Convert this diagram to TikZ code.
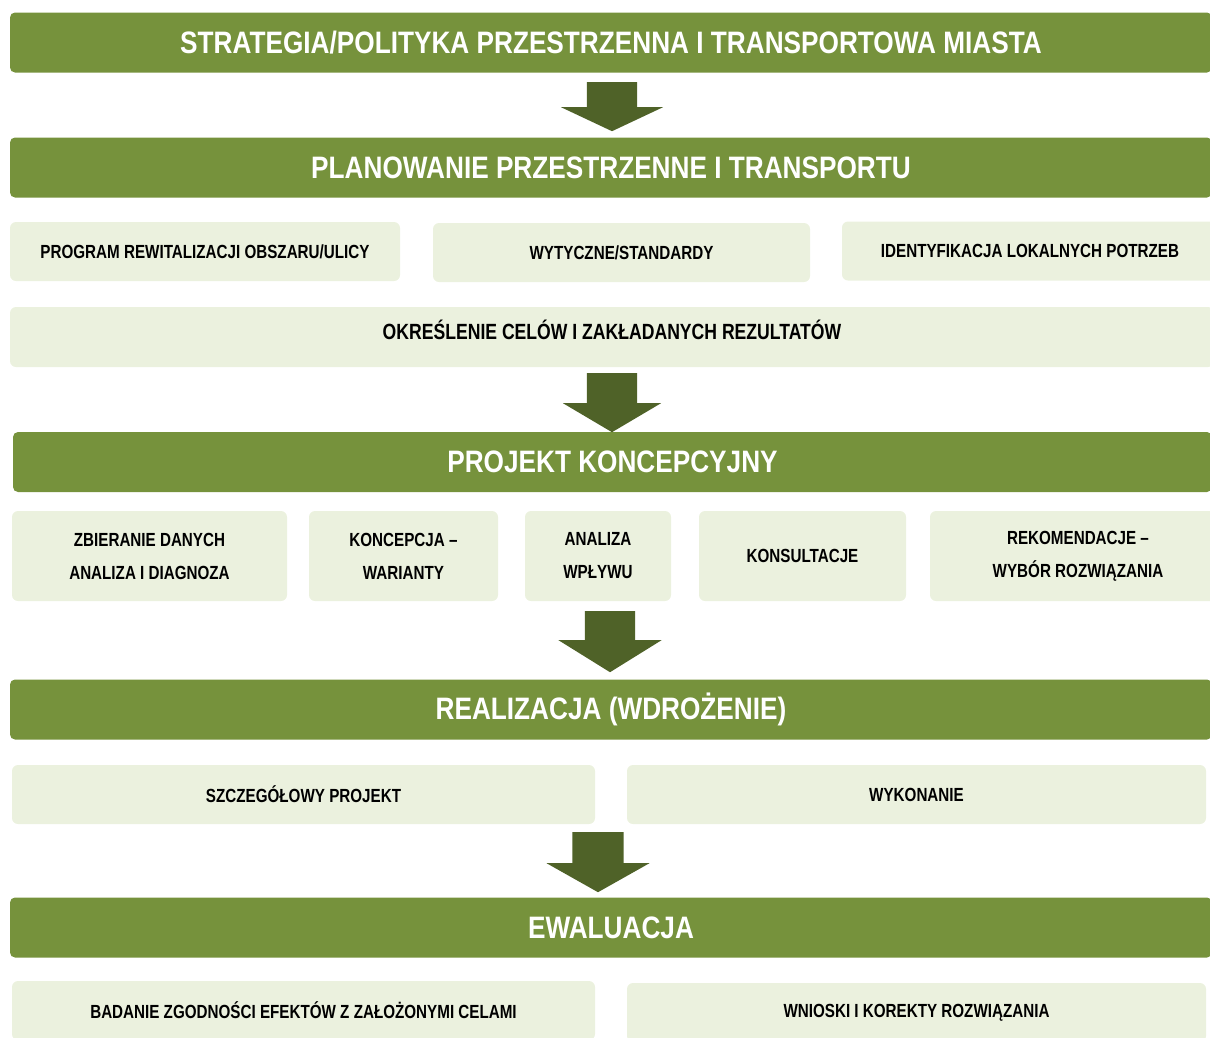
\documentclass[tikz,border=0pt]{standalone}
\usepackage{fontspec}
\setmainfont{Liberation Sans}[FakeStretch=0.8]
\newfontfamily\stagefont{Liberation Sans}[FakeStretch=0.845]
\usetikzlibrary{shapes.arrows}

\definecolor{bargreen}{HTML}{76923C}
\definecolor{arrowgreen}{HTML}{4F6228}
\definecolor{itemgreen}{HTML}{EBF1DE}

\begin{document}
\begin{tikzpicture}[
        x=1pt, y=-1pt,
        bar/.style={
            rectangle,
            rounded corners=5pt,
            fill=bargreen,
            text=white,
            minimum height=60pt,
            inner sep=0pt,
            font=\stagefont\fontsize{31}{34}\selectfont\bfseries
        },
        item/.style={
            rectangle,
            rounded corners=6pt,
            fill=itemgreen,
            minimum height=59pt,
            inner sep=0pt,
            align=center,
            font=\fontsize{19}{33}\selectfont\bfseries
        },
        stagearrow/.style={
            single arrow,
            rotate=-90,
            anchor=tail,
            fill=arrowgreen,
            inner xsep=0pt,
            inner ysep=25pt,
            single arrow head indent=0pt
        }
    ]

    \useasboundingbox (0,0) rectangle (1210,1037);

    % stages
    \node[bar, minimum width=1202] (strategy) at (611, 42.5)  {STRATEGIA/POLITYKA PRZESTRZENNA I TRANSPORTOWA MIASTA};
    \node[bar, minimum width=1202] (planning) at (611, 167.5) {PLANOWANIE PRZESTRZENNE I TRANSPORTU};
    \node[bar, minimum width=1199] (concept)  at (612.5, 462) {PROJEKT KONCEPCYJNY};
    \node[bar, minimum width=1202] (realize)  at (611, 709.5) {REALIZACJA (WDROŻENIE)};
    \node[bar, minimum width=1202] (evaluate) at (611, 927.5) {EWALUACJA};

    % planning inputs
    \node[item, minimum width=390] (program)   at (205, 251.5)    {PROGRAM REWITALIZACJI OBSZARU/ULICY};
    \node[item, minimum width=377] (standards) at (621.5, 252.5)  {WYTYCZNE/STANDARDY};
    \node[item, minimum width=376] (needs)     at (1030, 251)     {IDENTYFIKACJA LOKALNYCH POTRZEB};
    \node[item, minimum width=1204, minimum height=60] (goals) at (612, 337) {};
    \node[font=\fontsize{22}{26}\selectfont\bfseries, inner sep=0pt] (goalstext) at (612, 330) {OKREŚLENIE CELÓW I ZAKŁADANYCH REZULTATÓW};

    % concept steps
    \node[item, minimum width=275, minimum height=90] (data)      at (149.5, 556) {ZBIERANIE DANYCH\\ANALIZA I DIAGNOZA};
    \node[item, minimum width=189, minimum height=90] (variants)  at (403.5, 556) {KONCEPCJA –\\WARIANTY};
    \node[item, minimum width=146, minimum height=90] (impact)    at (598, 556)   {ANALIZA\\WPŁYWU};
    \node[item, minimum width=207, minimum height=90] (consult)   at (802.5, 556) {KONSULTACJE};
    \node[item, minimum width=296, minimum height=90] (recommend) at (1078, 556)  {REKOMENDACJE –\\WYBÓR ROZWIĄZANIA};

    % realization steps
    \node[item, minimum width=583] (design) at (303.5, 794.5) {SZCZEGÓŁOWY PROJEKT};
    \node[item, minimum width=579] (build)  at (916.5, 794.5) {WYKONANIE};

    % evaluation steps
    \node[item, minimum width=583] (check)   at (303.5, 1010.5) {BADANIE ZGODNOŚCI EFEKTÓW Z ZAŁOŻONYMI CELAMI};
    \node[item, minimum width=579] (correct) at (916.5, 1012.5) {WNIOSKI I KOREKTY ROZWIĄZANIA};

    % arrows between stages
    \node[stagearrow, minimum height=49, minimum width=102, single arrow head extend=26,   single arrow tip angle=129.6] (a1) at (612, 82)  {};
    \node[stagearrow, minimum height=59, minimum width=98,  single arrow head extend=24,   single arrow tip angle=118.8] (a2) at (612, 373) {};
    \node[stagearrow, minimum height=61, minimum width=103, single arrow head extend=26.5, single arrow tip angle=116.3] (a3) at (610, 611) {};
    \node[stagearrow, minimum height=60, minimum width=103, single arrow head extend=25.5, single arrow tip angle=121.2] (a4) at (598, 832) {};

\end{tikzpicture}
\end{document}
